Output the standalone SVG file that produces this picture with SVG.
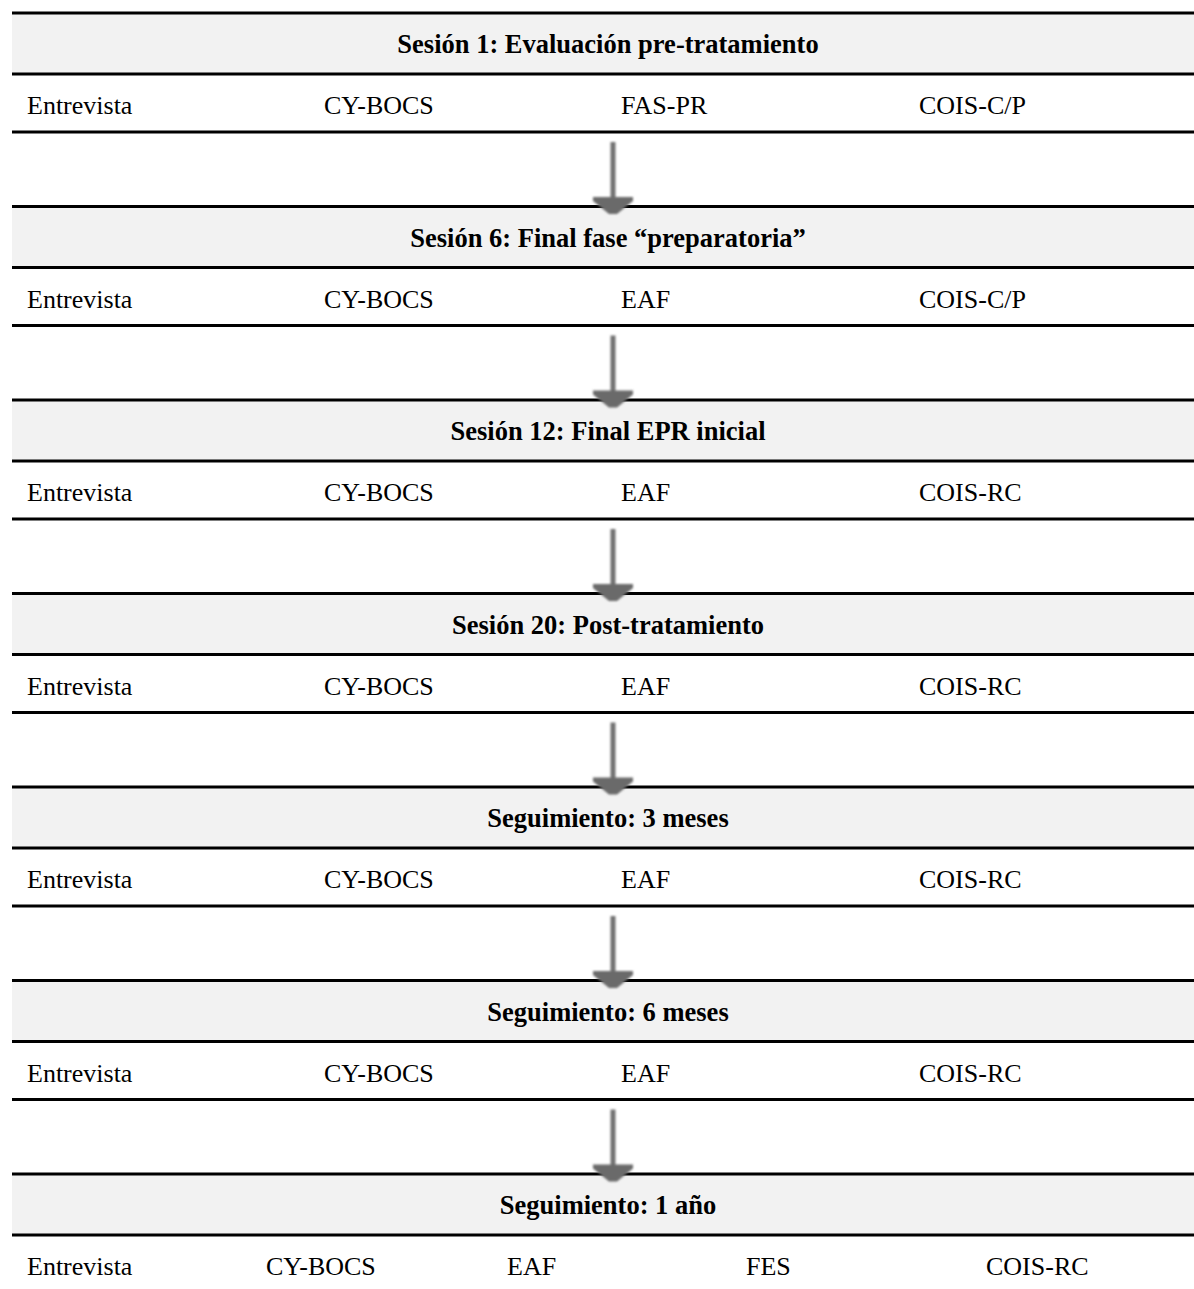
<svg xmlns="http://www.w3.org/2000/svg" width="1194" height="1289" viewBox="0 0 1194 1289">
<style>
.hdr{fill:#f2f2f2}
.rule{stroke:#000;stroke-width:3}
.h{font-family:"Liberation Serif","Times New Roman",serif;font-size:26.5px;font-weight:bold;fill:#000;text-anchor:middle}
.t{font-family:"Liberation Serif","Times New Roman",serif;font-size:26px;fill:#000}
.shaft{stroke:#717171;stroke-width:5;fill:none}
.head{fill:#6a6a6a}
</style>
<defs>
<filter id="soft" x="-20%" y="-20%" width="140%" height="140%"><feGaussianBlur stdDeviation="0.8"/></filter>
<g id="arrow" filter="url(#soft)">
<line class="shaft" x1="613" y1="0" x2="613" y2="58"/>
<polygon class="head" points="593,55 633,55 633,59 617,72 609,72 593,59"/>
</g>
</defs>

<g id="block1">
<rect class="hdr" x="12" y="13" width="1182" height="61"/>
<line class="rule" x1="12" y1="13" x2="1194" y2="13"/>
<line class="rule" x1="12" y1="74" x2="1194" y2="74"/>
<line class="rule" x1="12" y1="132" x2="1194" y2="132"/>
<text class="h" x="608" y="53">Sesión 1: Evaluación pre-tratamiento</text>
<text class="t" x="27" y="114">Entrevista</text>
<text class="t" x="324" y="114">CY-BOCS</text>
<text class="t" x="621" y="114">FAS-PR</text>
<text class="t" x="919" y="114">COIS-C/P</text>
</g>

<g id="block2">
<rect class="hdr" x="12" y="206.5" width="1182" height="61"/>
<line class="rule" x1="12" y1="206.5" x2="1194" y2="206.5"/>
<line class="rule" x1="12" y1="267.5" x2="1194" y2="267.5"/>
<line class="rule" x1="12" y1="325.5" x2="1194" y2="325.5"/>
<text class="h" x="608" y="246.5">Sesión 6: Final fase “preparatoria”</text>
<text class="t" x="27" y="307.5">Entrevista</text>
<text class="t" x="324" y="307.5">CY-BOCS</text>
<text class="t" x="621" y="307.5">EAF</text>
<text class="t" x="919" y="307.5">COIS-C/P</text>
</g>

<g id="block3">
<rect class="hdr" x="12" y="400" width="1182" height="61"/>
<line class="rule" x1="12" y1="400" x2="1194" y2="400"/>
<line class="rule" x1="12" y1="461" x2="1194" y2="461"/>
<line class="rule" x1="12" y1="519" x2="1194" y2="519"/>
<text class="h" x="608" y="440">Sesión 12: Final EPR inicial</text>
<text class="t" x="27" y="501">Entrevista</text>
<text class="t" x="324" y="501">CY-BOCS</text>
<text class="t" x="621" y="501">EAF</text>
<text class="t" x="919" y="501">COIS-RC</text>
</g>

<g id="block4">
<rect class="hdr" x="12" y="593.5" width="1182" height="61"/>
<line class="rule" x1="12" y1="593.5" x2="1194" y2="593.5"/>
<line class="rule" x1="12" y1="654.5" x2="1194" y2="654.5"/>
<line class="rule" x1="12" y1="712.5" x2="1194" y2="712.5"/>
<text class="h" x="608" y="633.5">Sesión 20: Post-tratamiento</text>
<text class="t" x="27" y="694.5">Entrevista</text>
<text class="t" x="324" y="694.5">CY-BOCS</text>
<text class="t" x="621" y="694.5">EAF</text>
<text class="t" x="919" y="694.5">COIS-RC</text>
</g>

<g id="block5">
<rect class="hdr" x="12" y="787" width="1182" height="61"/>
<line class="rule" x1="12" y1="787" x2="1194" y2="787"/>
<line class="rule" x1="12" y1="848" x2="1194" y2="848"/>
<line class="rule" x1="12" y1="906" x2="1194" y2="906"/>
<text class="h" x="608" y="827">Seguimiento: 3 meses</text>
<text class="t" x="27" y="888">Entrevista</text>
<text class="t" x="324" y="888">CY-BOCS</text>
<text class="t" x="621" y="888">EAF</text>
<text class="t" x="919" y="888">COIS-RC</text>
</g>

<g id="block6">
<rect class="hdr" x="12" y="980.5" width="1182" height="61"/>
<line class="rule" x1="12" y1="980.5" x2="1194" y2="980.5"/>
<line class="rule" x1="12" y1="1041.5" x2="1194" y2="1041.5"/>
<line class="rule" x1="12" y1="1099.5" x2="1194" y2="1099.5"/>
<text class="h" x="608" y="1020.5">Seguimiento: 6 meses</text>
<text class="t" x="27" y="1081.5">Entrevista</text>
<text class="t" x="324" y="1081.5">CY-BOCS</text>
<text class="t" x="621" y="1081.5">EAF</text>
<text class="t" x="919" y="1081.5">COIS-RC</text>
</g>

<g id="block7">
<rect class="hdr" x="12" y="1174" width="1182" height="61"/>
<line class="rule" x1="12" y1="1174" x2="1194" y2="1174"/>
<line class="rule" x1="12" y1="1235" x2="1194" y2="1235"/>
<text class="h" x="608" y="1214">Seguimiento: 1 año</text>
<text class="t" x="27" y="1275">Entrevista</text>
<text class="t" x="266" y="1275">CY-BOCS</text>
<text class="t" x="507" y="1275">EAF</text>
<text class="t" x="746" y="1275">FES</text>
<text class="t" x="986" y="1275">COIS-RC</text>
</g>

<g id="connectors">
<use href="#arrow" transform="translate(0,142)"/>
<use href="#arrow" transform="translate(0,335.5)"/>
<use href="#arrow" transform="translate(0,529)"/>
<use href="#arrow" transform="translate(0,722.5)"/>
<use href="#arrow" transform="translate(0,916)"/>
<use href="#arrow" transform="translate(0,1109.5)"/>
</g>
</svg>
